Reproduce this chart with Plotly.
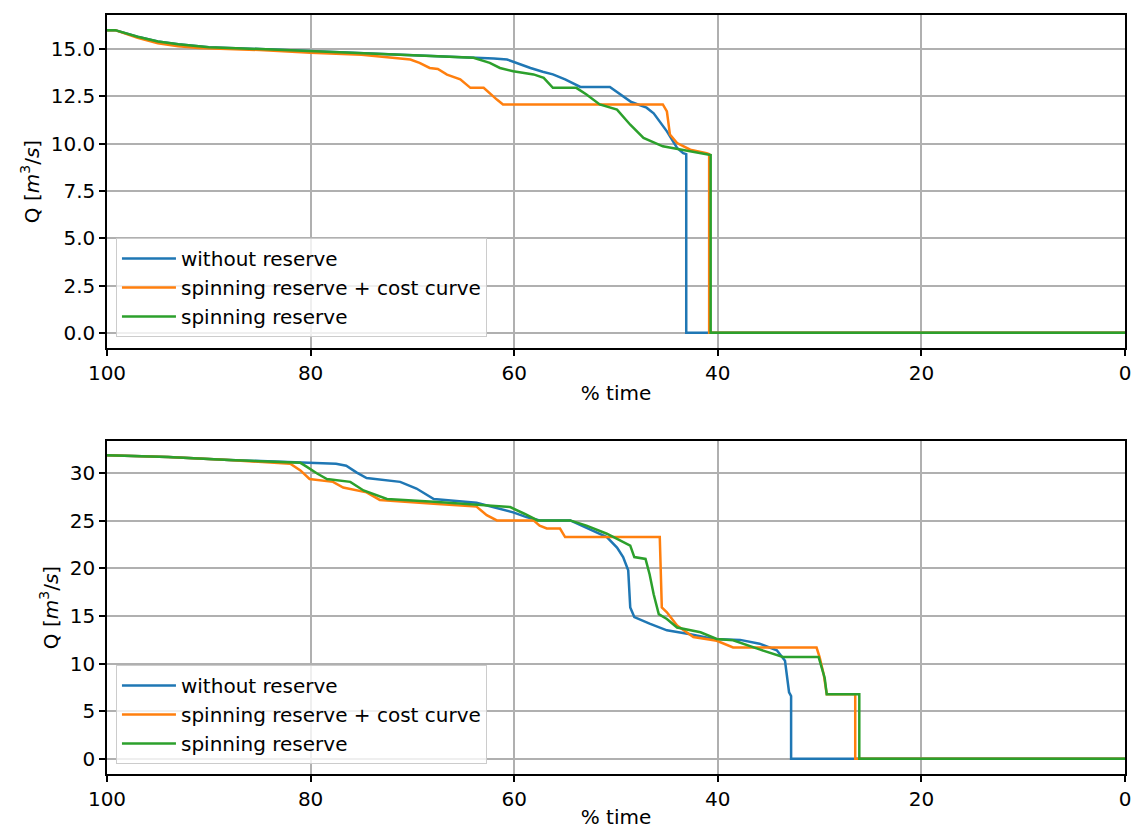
import plotly.graph_objects as go
from plotly.subplots import make_subplots

names = ["without reserve", "spinning reserve + cost curve", "spinning reserve"]
colors = ["#1f77b4", "#ff7f0e", "#2ca02c"]

# ---- top panel ----
top_blue_x = [100, 99.2, 97, 95, 93, 90, 85, 80, 75, 70, 65, 62, 60.7, 59.5, 58.4, 57.2, 56.2, 55, 53.5, 50.6, 49.6, 48.5, 47.0, 46.3, 45.0, 44.0, 43.4, 43.1, 43.1, 0]
top_blue_y = [16.0, 16.0, 15.65, 15.4, 15.25, 15.1, 15.0, 14.9, 14.8, 14.7, 14.6, 14.5, 14.45, 14.2, 14.0, 13.8, 13.66, 13.4, 13.0, 13.0, 12.6, 12.2, 11.9, 11.6, 10.65, 9.77, 9.5, 9.45, 0, 0]

top_orange_x = [100, 99.2, 97, 95, 93, 91, 85, 80, 75, 73, 71, 70.2, 69.3, 68.3, 67.5, 66.6, 65.3, 64.3, 63.0, 62.3, 61.7, 61.1, 45.4, 45.0, 44.7, 44.0, 42.7, 41.1, 40.85, 40.85, 0]
top_orange_y = [16.0, 16.0, 15.6, 15.3, 15.15, 15.05, 14.95, 14.8, 14.7, 14.6, 14.5, 14.45, 14.27, 14.0, 13.95, 13.65, 13.4, 12.95, 12.95, 12.6, 12.33, 12.07, 12.07, 11.7, 10.48, 10.03, 9.68, 9.5, 9.45, 0, 0]

top_green_x = [100, 99.2, 97, 95, 93, 90, 85, 80, 75, 70, 66, 64.0, 62.4, 61.4, 60.1, 58.1, 57.1, 56.2, 53.9, 52.9, 51.6, 49.9, 48.6, 47.3, 45.4, 43.7, 40.9, 40.7, 40.7, 0]
top_green_y = [16.0, 16.0, 15.65, 15.4, 15.25, 15.1, 15.0, 14.9, 14.8, 14.68, 14.6, 14.54, 14.27, 14.0, 13.83, 13.66, 13.48, 12.95, 12.95, 12.6, 12.07, 11.8, 11.0, 10.3, 9.86, 9.68, 9.42, 9.4, 0, 0]

# ---- bottom panel ----
bot_blue_x = [100, 94, 88, 81, 77.5, 76.5, 75.5, 74.5, 71.2, 69.6, 67.9, 63.7, 61.4, 60.1, 58.8, 57.5, 54.5, 52.9, 50.9, 49.9, 49.3, 48.8, 48.6, 48.2, 46.7, 45.0, 42.7, 40.4, 37.8, 35.9, 34.2, 33.4, 33.0, 32.9, 32.8, 32.8, 0]
bot_blue_y = [31.9, 31.7, 31.4, 31.1, 31.0, 30.8, 30.1, 29.5, 29.1, 28.4, 27.3, 26.9, 26.3, 25.9, 25.4, 25.05, 25.05, 24.3, 23.3, 22.2, 21.2, 19.8, 15.9, 14.9, 14.2, 13.5, 13.1, 12.6, 12.5, 12.1, 11.4, 10.3, 7.0, 6.8, 6.6, 0, 0]

bot_orange_x = [100, 94, 88, 82.0, 81.0, 80.1, 77.8, 76.8, 74.5, 73.2, 67.9, 63.7, 62.7, 61.7, 58.1, 57.5, 56.8, 55.5, 55.0, 45.7, 45.5, 45.0, 44.0, 42.4, 40.1, 38.5, 30.3, 30.0, 29.6, 29.3, 26.5, 26.5, 0]
bot_orange_y = [31.9, 31.7, 31.4, 31.0, 30.3, 29.4, 29.1, 28.5, 28.0, 27.2, 26.8, 26.5, 25.6, 25.05, 25.05, 24.5, 24.2, 24.2, 23.3, 23.3, 15.9, 15.4, 14.0, 12.8, 12.4, 11.7, 11.7, 10.7, 8.9, 6.8, 6.8, 0, 0]

bot_green_x = [100, 94, 88, 81.0, 80.4, 79.4, 78.4, 76.1, 74.8, 72.5, 67.9, 61.7, 60.4, 59.0, 57.7, 54.5, 52.9, 50.9, 49.6, 48.6, 48.2, 47.1, 46.7, 46.3, 45.8, 45.0, 44.0, 43.4, 41.7, 40.1, 38.5, 35.9, 33.6, 30.1, 29.8, 29.5, 29.3, 26.1, 26.1, 0]
bot_green_y = [31.9, 31.7, 31.4, 31.1, 30.7, 30.0, 29.4, 29.1, 28.2, 27.3, 27.0, 26.5, 26.45, 25.75, 25.05, 25.05, 24.5, 23.65, 22.9, 22.4, 21.2, 21.0, 19.4, 17.3, 15.2, 14.7, 13.8, 13.65, 13.3, 12.6, 12.45, 11.5, 10.7, 10.7, 9.6, 8.5, 6.8, 6.8, 0, 0]

top_series = [(top_blue_x, top_blue_y), (top_orange_x, top_orange_y), (top_green_x, top_green_y)]
bot_series = [(bot_blue_x, bot_blue_y), (bot_orange_x, bot_orange_y), (bot_green_x, bot_green_y)]

FONT = "DejaVu Sans"
FS = 20
fig = make_subplots(rows=2, cols=1, vertical_spacing=0.1226)

for i, (xs, ys) in enumerate(top_series):
    fig.add_trace(go.Scatter(x=xs, y=ys, mode="lines", name=names[i],
                             line=dict(color=colors[i], width=2.5), legend="legend"), row=1, col=1)
for i, (xs, ys) in enumerate(bot_series):
    fig.add_trace(go.Scatter(x=xs, y=ys, mode="lines", name=names[i],
                             line=dict(color=colors[i], width=2.5), legend="legend2"), row=2, col=1)

axis_common = dict(showline=True, linecolor="black", linewidth=1.5, mirror=True,
                   ticks="outside", ticklen=6, tickwidth=1.5, tickcolor="black",
                   showgrid=True, gridcolor="#b0b0b0", gridwidth=1.5, zeroline=False,
                   automargin=False,
                   tickfont=dict(family=FONT, size=FS, color="black"))

for r in (1, 2):
    fig.update_xaxes(range=[100, 0], tick0=0, dtick=20,
                     title=dict(text="% time", font=dict(family=FONT, size=FS, color="black"), standoff=2),
                     row=r, col=1, **axis_common)

ytitle = "Q [<i>m</i><sup>3</sup>/<i>s</i>]"
fig.update_yaxes(range=[-0.8, 16.8], tick0=0, dtick=2.5, tickformat=".1f",
                 title=dict(text=ytitle, font=dict(family=FONT, size=FS, color="black"), standoff=6),
                 row=1, col=1, **axis_common)
fig.update_yaxes(range=[-1.59, 33.39], tick0=0, dtick=5,
                 title=dict(text=ytitle, font=dict(family=FONT, size=FS, color="black"), standoff=6),
                 row=2, col=1, **axis_common)

legend_common = dict(xanchor="left", yanchor="bottom", itemwidth=54,
                     bgcolor="rgba(255,255,255,0.8)", bordercolor="#cccccc", borderwidth=1,
                     font=dict(family=FONT, size=FS, color="black"))

fig.update_layout(
    width=1133, height=829,
    margin=dict(l=107, r=8, t=15, b=55),
    plot_bgcolor="white", paper_bgcolor="white",
    font=dict(family=FONT, size=FS, color="black"),
    legend=dict(x=0.0088, y=0.5758, **legend_common),
    legend2=dict(x=0.0088, y=0.0132, **legend_common),
)

fig.write_html("out.html")
